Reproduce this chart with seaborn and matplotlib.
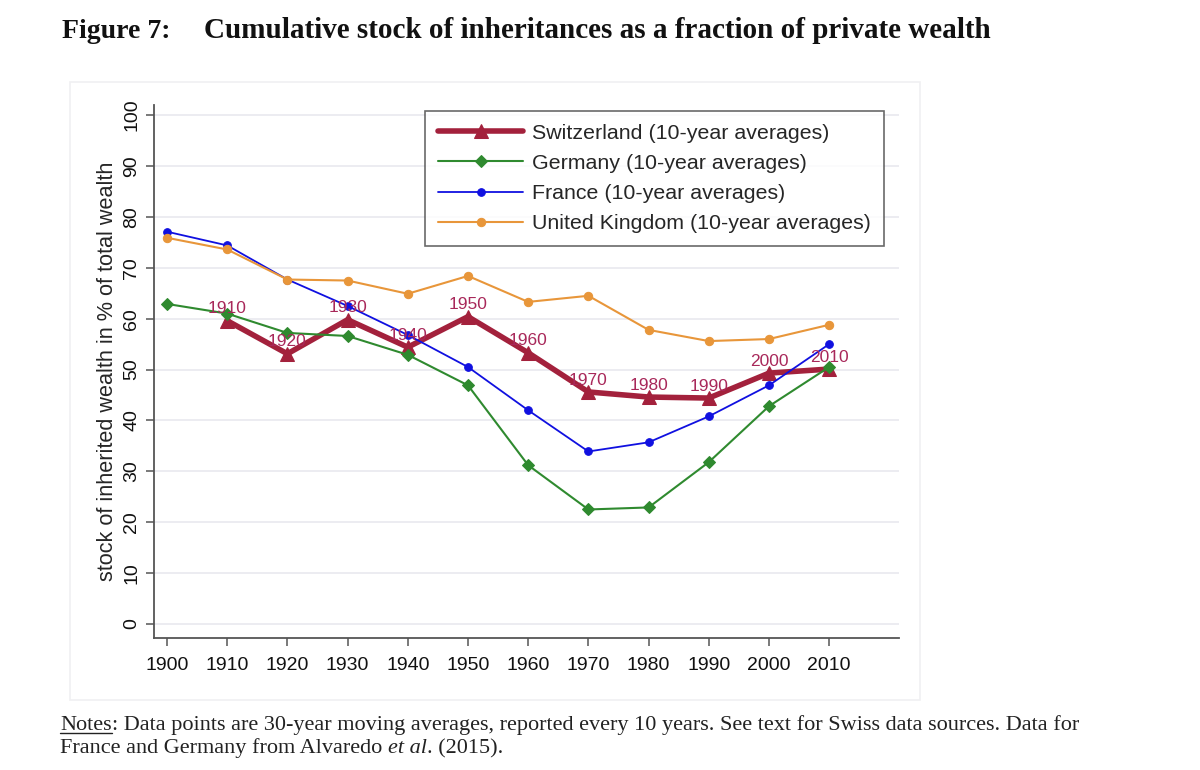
import matplotlib
matplotlib.use("Agg")
import matplotlib.pyplot as plt
import seaborn as sns
import pandas as pd
from matplotlib.patches import Rectangle
from matplotlib.lines import Line2D

years = [1900, 1910, 1920, 1930, 1940, 1950, 1960, 1970, 1980, 1990, 2000, 2010]
switzerland = [None, 59.6, 53.1, 59.8, 54.4, 60.4, 53.3, 45.6, 44.6, 44.4, 49.3, 50.1]
germany = [62.9, 61.0, 57.2, 56.6, 52.9, 46.9, 31.2, 22.5, 22.9, 31.8, 42.8, 50.5]
france = [77.1, 74.4, 67.7, 62.5, 56.8, 50.5, 42.0, 33.9, 35.7, 40.8, 46.9, 55.0]
uk = [75.9, 73.6, 67.7, 67.5, 64.9, 68.4, 63.3, 64.5, 57.8, 55.6, 56.0, 58.8]
series_names = ["Switzerland (10-year averages)", "Germany (10-year averages)",
                "France (10-year averages)", "United Kingdom (10-year averages)"]
x_ticks = [1900, 1910, 1920, 1930, 1940, 1950, 1960, 1970, 1980, 1990, 2000, 2010]
y_ticks = [0, 10, 20, 30, 40, 50, 60, 70, 80, 90, 100]

sns.set_theme(style="white")
plt.rcParams['font.family'] = ['Liberation Sans', 'DejaVu Sans']

fig = plt.figure(figsize=(12, 7.7), dpi=100)
ax = fig.add_axes([154/1200, 1-638/770, (899-154)/1200, (638-105)/770])

# faint graph-region frame
fig.patches.append(Rectangle((70/1200, 1-700/770), (920-70)/1200, (700-82)/770,
                             transform=fig.transFigure, fill=False,
                             edgecolor='#f0f0f2', linewidth=1.2, zorder=0))

styles = [
    dict(color='#a3213c', marker='^', lw=4.0, ms=9.5),
    dict(color='#2f8a2f', marker='D', lw=1.5, ms=6),
    dict(color='#1010e0', marker='o', lw=1.3, ms=5.5),
    dict(color='#e8963a', marker='o', lw=1.5, ms=6),
]
data = [switzerland, germany, france, uk]
for name, vals, st in zip(series_names, data, styles):
    df = pd.DataFrame({"year": years, "value": vals}).dropna()
    sns.lineplot(data=df, x="year", y="value", ax=ax, color=st['color'],
                 marker=st['marker'], linewidth=st['lw'], markersize=st['ms'],
                 markeredgecolor=st['color'], label=name, zorder=3)

# year labels on Swiss series
for yr, v in zip(years, switzerland):
    if v is None:
        continue
    ax.annotate(str(yr), (yr, v), xytext=(0, 8.5), textcoords='offset points',
                ha='center', va='center', color='#a8285a', fontsize=12.5, zorder=4)

ax.set_xlim(1897.84, 2021.6)
ax.set_ylim(-2.76, 102.0)
ax.set_xticks(x_ticks)
ax.set_xticklabels([str(t) for t in x_ticks], fontsize=14)
ax.set_yticks(y_ticks)
ax.set_yticklabels([str(t) for t in y_ticks], fontsize=14, rotation=90, va='center')
ax.set_xlabel("")
ax.set_ylabel("stock of inherited wealth in % of total wealth", fontsize=15.6, labelpad=4)

ax.grid(axis='y', color='#e9e9ef', linewidth=1.2)
ax.set_axisbelow(True)
for s in ['top', 'right']:
    ax.spines[s].set_visible(False)
for s in ['left', 'bottom']:
    ax.spines[s].set_color('#555555')
    ax.spines[s].set_linewidth(1.3)
ax.tick_params(axis='both', which='both', direction='out', length=6, width=1.1,
               color='#555555', labelcolor='#111111', left=True, bottom=True)
ax.tick_params(axis='x', pad=8)
ax.tick_params(axis='y', pad=4)

leg = ax.legend(loc='upper left', bbox_to_anchor=((425-154)/745, (638-111)/533),
                fontsize=15.4, frameon=True, fancybox=False, edgecolor='#444444',
                handlelength=4.0, borderpad=0.6, labelspacing=0.52, handletextpad=0.4,
                borderaxespad=0.0)
leg.get_frame().set_linewidth(1.2)

serif = ['Liberation Serif', 'DejaVu Serif']
fig.text(62/1200, 1-31/770, "Figure 7:", fontsize=20, fontweight='bold',
         family=serif, va='center', ha='left', color='#111111')
fig.text(204/1200, 1-31/770, "Cumulative stock of inheritances as a fraction of private wealth",
         fontsize=21, fontweight='bold', family=serif, va='center', ha='left', color='#111111')

# Notes (pieces laid out with renderer measurements)
renderer = fig.canvas.get_renderer()

def place(pieces, x0_px, y_px, underline_first=False):
    x_px = x0_px
    for i, (txt, style) in enumerate(pieces):
        t = fig.text(x_px/1200, 1-y_px/770, txt, fontsize=16, family=serif,
                     style=style, va='baseline', ha='left', color='#222222')
        bb = t.get_window_extent(renderer=renderer)
        if underline_first and i == 0:
            yb = (770 - y_px - 3) / 770
            fig.lines.append(Line2D([bb.x0/1200, bb.x1/1200], [yb, yb],
                                    transform=fig.transFigure, color='#222222', lw=1.0))
        x_px += bb.width

place([("Notes", 'normal'),
       (": Data points are 30-year moving averages, reported every 10 years. See text for Swiss data sources. Data for", 'normal')],
      60, 730, underline_first=True)
place([("France and Germany from Alvaredo ", 'normal'), ("et al", 'italic'), (". (2015).", 'normal')],
      60, 753)

fig.savefig("out.png", dpi=100, facecolor='white')
